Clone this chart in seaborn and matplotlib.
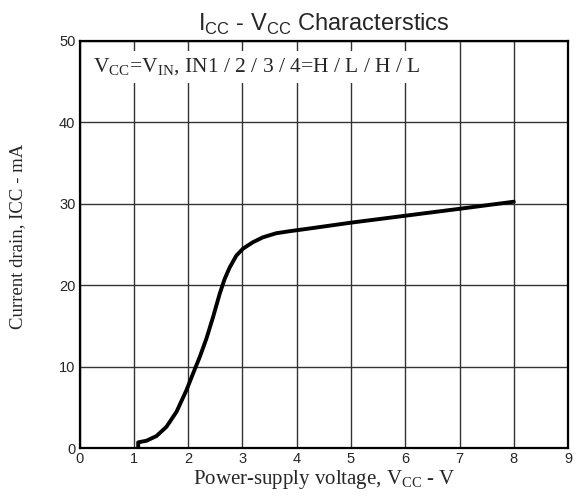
import matplotlib
matplotlib.use("Agg")
import matplotlib.pyplot as plt
import seaborn as sns
import pandas as pd

# values
vcc = [1.079, 1.079, 1.233, 1.417, 1.601, 1.785, 1.969, 2.09, 2.213, 2.336, 2.458, 2.581,
       2.673, 2.765, 2.888, 3.009, 3.193, 3.377, 3.623, 3.868, 4.2, 5.0, 6.0, 7.0, 8.0]
icc = [0.0, 0.73, 0.93, 1.51, 2.65, 4.48, 7.14, 9.18, 11.2, 13.46, 16.1, 18.97,
       20.8, 22.2, 23.66, 24.5, 25.3, 25.9, 26.4, 26.65, 26.95, 27.7, 28.55, 29.4, 30.27]
x_ticks = list(range(0, 10))
y_ticks = [0, 10, 20, 30, 40, 50]

df = pd.DataFrame({"vcc": vcc, "icc": icc})

sns.set_style("white")
plt.rcParams["font.family"] = ["Liberation Sans", "DejaVu Sans"]

fig = plt.figure(figsize=(5.77, 5.0), dpi=100)
ax = fig.add_axes([0.138, 0.1034, 0.8465, 0.8146])

sns.lineplot(data=df, x="vcc", y="icc", ax=ax, color="black", linewidth=2.8,
             sort=False, estimator=None, zorder=5)

ax.set_xlim(0, 9)
ax.set_ylim(0, 50)
ax.set_xticks(x_ticks)
ax.set_yticks(y_ticks)
ax.tick_params(axis="both", length=0, labelsize=10.5, pad=3)
ax.grid(True, color="#333333", linewidth=1.0)
for sp in ax.spines.values():
    sp.set_color("black")
    sp.set_linewidth(1.6)

serif = ["Liberation Serif", "DejaVu Serif"]
ax.set_xlabel(r"Power-supply voltage, V$_{\mathregular{CC}}$ - V", fontsize=15,
              family=serif, labelpad=1)
ax.set_ylabel("Current drain, ICC - mA", fontsize=13.5, family=serif)
ax.yaxis.set_label_coords(-0.11, 0.52)
ax.set_title(r"I$_{\mathregular{CC}}$ - V$_{\mathregular{CC}}$ Characterstics",
             fontsize=17, pad=7)

ax.text(0.25, 46.2, r"V$_{\mathregular{CC}}$=V$_{\mathregular{IN}}$, IN1 / 2 / 3 / 4=H / L / H / L",
        fontsize=15.5, family=serif, zorder=6,
        bbox=dict(facecolor="white", edgecolor="none", pad=4))

fig.savefig("out.png", dpi=100)
